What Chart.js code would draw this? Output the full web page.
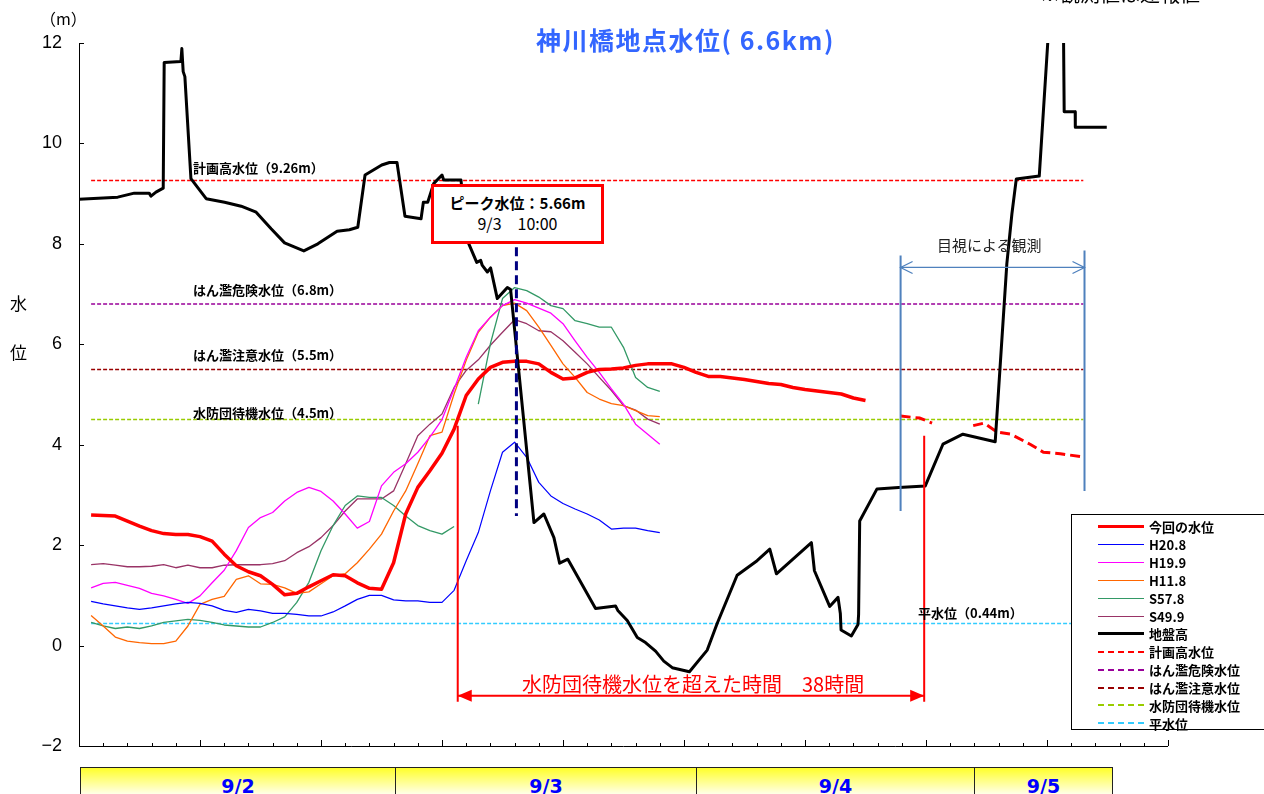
<!DOCTYPE html>
<html lang="ja">
<head>
<meta charset="UTF-8">
<title>神川橋地点水位</title>
<style>
  body { margin: 0; background: #fff; }
  #wrap { position: relative; width: 1264px; height: 794px; overflow: hidden; font-family: "Noto Sans CJK JP", sans-serif; }
  canvas { position: absolute; left: 0; top: 0; }
  .t { position: absolute; white-space: nowrap; line-height: 1; color: #000; }
  .ref { font-size: 13px; font-weight: bold; }
  #titulo { left: 536px; top: 27px; font-size: 25px; font-weight: bold; color: #3366ff; letter-spacing: 1.5px; }
  #pico { position: absolute; left: 431px; top: 184px; width: 173px; height: 60px; box-sizing: border-box;
          border: 3px solid #ff0000; background: #fff; text-align: center; font-size: 15px; }
  #pico div { line-height: 20px; }
  #legenda { position: absolute; left: 1071px; top: 514px; width: 220px; height: 216px; box-sizing: border-box;
             border: 1px solid #000; background: #fff; padding-top: 3px; }
  .item { height: 17.85px; display: flex; align-items: center; }
  .amostra { margin-left: 26px; width: 46px; height: 0; margin-right: 5px; }
  .item span { font-size: 13px; font-weight: bold; }
  #datas { position: absolute; left: 80px; top: 767px; display: flex; }
  .dia { height: 40px; box-sizing: border-box; border: 1.5px solid #222; border-left: none;
         background: linear-gradient(to bottom, #ffff2a 0px, #ffffe8 26px, #fff 40px);
         text-align: center; color: #0000ff; font: bold 19px "DejaVu Sans", sans-serif; padding-top: 7px; }
  .dia:first-child { border-left: 1.5px solid #222; }
</style>
</head>
<body>
<div id="wrap">
  <canvas id="grafico" width="1264" height="794"></canvas>

  <div class="t" style="left:40px; top:10px; font-size:16px;">（m）</div>
  <div class="t" style="left:10px; top:294px; font-size:17px;">水</div>
  <div class="t" style="left:10px; top:343px; font-size:17px;">位</div>
  <div class="t" id="titulo">神川橋地点水位( 6.6km)</div>
  <div class="t" style="left:1040px; top:-16px; font-size:20px;">※観測値は速報値</div>

  <div class="t ref" style="left:193px; top:161px;">計画高水位（9.26m）</div>
  <div class="t ref" style="left:193px; top:283px;">はん濫危険水位（6.8m）</div>
  <div class="t ref" style="left:193px; top:348px;">はん濫注意水位（5.5m）</div>
  <div class="t ref" style="left:193px; top:406px;">水防団待機水位（4.5m）</div>
  <div class="t ref" style="left:918px; top:606px;">平水位（0.44m）</div>

  <div id="pico">
    <div style="margin-top:6px; font-weight:bold;">ピーク水位：5.66m</div>
    <div style="font-size:16px;">9/3　10:00</div>
  </div>

  <div class="t" style="left:522px; top:674px; font-size:20px; color:#ff0000;">水防団待機水位を超えた時間　38時間</div>
  <div class="t" style="left:937px; top:237px; font-size:15px; color:#222;">目視による観測</div>

  <div id="legenda"></div>
  <div id="datas"></div>
</div>

<script src="https://cdn.jsdelivr.net/npm/chart.js"></script>
<script>
  // --- dados ---
  const horas = [1,2,3,4,5,6,7,8,9,10,11,12,13,14,15,16,17,18,19,20,21,22,23,24,25,26,27,28,29,30,
                 31,32,33,34,35,36,37,38,39,40,41,42,43,44,45,46,47,48,49,50,51,52,53,54,55,56,57,58,59,60,
                 61,62,63,64,65]

  let atual = [2.60,2.59,2.58,2.48,2.38,2.29,2.23,2.21,2.21,2.17,2.08,1.82,1.59,1.47,1.39,1.22,1.01,1.04,1.17,1.29,
               1.41,1.39,1.25,1.14,1.12,1.65,2.62,3.15,3.48,3.83,4.31,4.98,5.31,5.54,5.64,5.66,5.66,5.61,5.44,5.31,
               5.33,5.44,5.50,5.51,5.53,5.58,5.61,5.61,5.61,5.54,5.44,5.36,5.36,5.33,5.30,5.26,5.22,5.20,5.14,5.10,
               5.07,5.04,5.01,4.93,4.88]

  let h20 = [0.88,0.83,0.79,0.75,0.72,0.75,0.79,0.83,0.86,0.84,0.79,0.70,0.66,0.72,0.69,0.64,0.64,0.62,0.59,0.59,
             0.67,0.79,0.92,1.00,1.00,0.91,0.89,0.89,0.86,0.86,1.10,1.69,2.25,3.08,3.85,4.05,3.75,3.25,2.98,2.83,
             2.72,2.62,2.50,2.32,2.34,2.34,2.29,2.25]
  let h19 = [1.15,1.24,1.26,1.20,1.14,1.04,0.99,0.92,0.84,0.99,1.25,1.50,1.89,2.35,2.55,2.65,2.88,3.05,3.15,3.07,
             2.88,2.62,2.34,2.47,3.18,3.45,3.62,3.85,4.15,4.50,5.11,5.74,6.27,6.54,6.77,6.89,6.82,6.72,6.62,6.41,
             6.07,5.74,5.44,5.11,4.81,4.41,4.21,4.01]
  let h11 = [0.60,0.39,0.17,0.09,0.06,0.04,0.04,0.09,0.39,0.82,0.92,0.98,1.32,1.39,1.23,1.22,1.15,1.04,1.07,1.23,
             1.39,1.43,1.65,1.92,2.22,2.68,3.08,3.62,4.18,4.25,5.01,5.68,6.24,6.54,6.77,6.82,6.67,6.34,5.98,5.61,
             5.34,5.04,4.91,4.82,4.78,4.68,4.58,4.56]
  let s57 = [0.46,0.39,0.34,0.37,0.34,0.39,0.46,0.49,0.52,0.50,0.46,0.41,0.39,0.37,0.37,0.46,0.57,0.86,1.26,1.89,
             2.39,2.79,2.98,2.95,2.95,2.79,2.58,2.39,2.29,2.22,2.37,null,4.81,6.01,6.91,7.13,7.07,6.94,6.77,6.71,
             6.47,6.41,6.34,6.34,5.94,5.34,5.14,5.06]
  let s49 = [1.61,1.63,1.60,1.57,1.57,1.58,1.61,1.55,1.60,1.55,1.55,1.60,1.61,1.61,1.61,1.63,1.69,1.85,1.97,2.15,
             2.39,2.68,2.92,2.92,2.92,3.08,3.62,4.18,4.41,4.61,5.14,5.48,5.69,5.98,6.24,6.49,6.41,6.27,6.25,6.07,
             5.84,5.61,5.34,5.08,4.78,4.69,4.51,4.41]

  // 目視による観測 (時間, 水位)
  let obsX = [67.9,69.5,70.5,72.2,73.9,74.8,75.9,77.0,78.6,79.7,81.1,82.9]
  let obsY = [4.57,4.53,4.43,null,4.38,4.43,4.25,4.21,4.01,3.85,3.82,3.76]

  // 地盤高 (横断位置を時間軸に合わせたもの)
  let soloX = [0,3.2,4.57,5.8,5.95,6.36,6.96,7.04,8.42,8.5,8.61,8.75,9.25,10.51,12.03,13.4,14.64,15.88,16.99,18.58,
               19.74,21.33,22.35,23.04,23.64,25.02,25.66,26.28,26.94,28.27,28.46,28.82,29.31,30.0,30.14,31.57,32.04,32.87,33.2,33.33,
               33.75,34.02,34.57,35.4,35.67,37.6,38.42,39.25,39.72,40.4,42.69,44.34,44.53,45.31,46.14,46.82,47.65,48.33,49.03,50.45,
               51.92,52.74,54.39,56.04,57.09,57.64,60.53,60.78,62.04,62.73,62.92,62.98,63.83,64.38,64.43,64.52,65.95,67.74,69.94,71.4,
               73.05,75.72,76.68,77.1,77.46,79.36,80.14,81.36,81.42,82.33,82.34,84.94]
  let soloY = [8.89,8.93,9.01,9.01,8.95,9.03,9.11,11.61,11.63,11.89,11.43,11.33,9.30,8.90,8.83,8.75,8.63,8.30,8.02,7.86,
               8.00,8.25,8.28,8.33,9.37,9.57,9.62,9.62,8.55,8.50,8.83,8.83,9.20,9.37,9.27,9.27,8.10,7.63,7.67,7.57,
               7.44,7.52,6.91,7.13,7.09,2.45,2.62,2.15,1.64,1.72,0.74,0.79,0.70,0.50,0.16,0.06,-0.11,-0.31,-0.44,-0.52,
               -0.09,0.44,1.40,1.69,1.92,1.43,2.05,1.49,0.78,0.96,0.64,0.31,0.19,0.42,0.62,2.48,3.12,3.15,3.18,4.01,
               4.21,4.06,7.60,8.60,9.29,9.35,12.3,12.3,10.63,10.63,10.32,10.32]

  let refNomes = ["計画高水位", "はん濫危険水位", "はん濫注意水位", "水防団待機水位", "平水位"]
  let refValores = [9.26, 6.8, 5.5, 4.5, 0.44]
  let refCores = ["#ff0000", "#990099", "#990000", "#99cc00", "#33ccff"]
  let refInicio = 1, refFim = 83

  let dias = ["9/2", "9/3", "9/4", "9/5"]
  let diasLargura = [316, 301, 278, 138]

  const pontos = (xs, ys) => ys.map((v, i) => ({ x: xs[i], y: v }))

  let datasets = [
    { label: "今回の水位", data: pontos(horas, atual), borderColor: "#ff0000", borderWidth: 3.5, order: 1 },
    { label: "H20.8", data: pontos(horas, h20), borderColor: "#0000ff", borderWidth: 1.2, order: 2 },
    { label: "H19.9", data: pontos(horas, h19), borderColor: "#ff00ff", borderWidth: 1.3, order: 2 },
    { label: "H11.8", data: pontos(horas, h11), borderColor: "#ff6600", borderWidth: 1.3, order: 2 },
    { label: "S57.8", data: pontos(horas, s57), borderColor: "#339966", borderWidth: 1.3, order: 2 },
    { label: "S49.9", data: pontos(horas, s49), borderColor: "#993366", borderWidth: 1.3, order: 2 },
    { label: "地盤高", data: pontos(soloX, soloY), borderColor: "#000000", borderWidth: 3, order: 0 },
  ]
  refNomes.forEach((nome, i) => {
    datasets.push({ label: nome, data: [{ x: refInicio, y: refValores[i] }, { x: refFim, y: refValores[i] }],
      borderColor: refCores[i], borderWidth: 1.5, borderDash: [4, 2], order: 3 })
  })
  // 目視 (legend なし)
  datasets.push({ label: "_obs", data: pontos(obsX, obsY), borderColor: "#ff0000", borderWidth: 3, borderDash: [10, 5], order: 1 })

  // --- eixos e anotações ---
  const seta = (ctx, x0, x1, y, cheia, tam, meia) => {
    ctx.beginPath(); ctx.moveTo(x0, y); ctx.lineTo(x1, y); ctx.stroke()
    ;[[x0, 1], [x1, -1]].forEach(([px, d]) => {
      ctx.beginPath()
      ctx.moveTo(px + d * tam, y - meia); ctx.lineTo(px, y); ctx.lineTo(px + d * tam, y + meia)
      if (cheia) { ctx.closePath(); ctx.fill() } else ctx.stroke()
    })
  }

  const extras = {
    id: 'extras',
    afterDraw(chart) {
      const { ctx, chartArea: a, scales: { x, y } } = chart
      ctx.save()
      ctx.strokeStyle = '#000'; ctx.lineWidth = 1
      ctx.beginPath()
      ctx.moveTo(a.left, a.bottom + 0.5); ctx.lineTo(a.right, a.bottom + 0.5)
      for (let h = 0; h <= 90; h += 2) {
        const px = Math.round(x.getPixelForValue(h)) + 0.5
        ctx.moveTo(px, a.bottom); ctx.lineTo(px, a.bottom - (h % 10 === 0 ? 6 : 3))
      }
      y.ticks.forEach(t => {
        const py = Math.round(y.getPixelForValue(t.value)) + 0.5
        ctx.moveTo(a.left, py); ctx.lineTo(a.left + 5, py)
      })
      ctx.stroke()

      // 水防団待機水位を超えた時間
      ctx.strokeStyle = '#ff0000'; ctx.fillStyle = '#ff0000'; ctx.lineWidth = 2
      const xi = x.getPixelForValue(31.3), xf = x.getPixelForValue(69.85)
      ctx.beginPath()
      ctx.moveTo(xi, y.getPixelForValue(4.38)); ctx.lineTo(xi, y.getPixelForValue(-1.12))
      ctx.moveTo(xf, y.getPixelForValue(4.18)); ctx.lineTo(xf, y.getPixelForValue(-1.12))
      ctx.stroke()
      seta(ctx, xi, xf, y.getPixelForValue(-1.0), true, 14, 6)

      // ピーク
      ctx.strokeStyle = '#000080'; ctx.lineWidth = 3; ctx.setLineDash([9, 5])
      const xp = x.getPixelForValue(36.15)
      ctx.beginPath(); ctx.moveTo(xp, y.getPixelForValue(7.93)); ctx.lineTo(xp, y.getPixelForValue(2.58)); ctx.stroke()
      ctx.setLineDash([])

      // 目視による観測
      ctx.strokeStyle = '#4f81bd'; ctx.lineWidth = 2
      const xa = x.getPixelForValue(67.9), xb = x.getPixelForValue(83.1)
      ctx.beginPath()
      ctx.moveTo(xa, y.getPixelForValue(7.77)); ctx.lineTo(xa, y.getPixelForValue(2.68))
      ctx.moveTo(xb, y.getPixelForValue(7.87)); ctx.lineTo(xb, y.getPixelForValue(3.08))
      ctx.stroke()
      ctx.lineWidth = 1.3
      seta(ctx, xa, xb, y.getPixelForValue(7.53), false, 12, 6)
      ctx.restore()
    }
  }

  const ctx = document.getElementById('grafico')
  let grafico = new Chart(ctx, {
    type: 'line',
    data: { datasets: datasets },
    options: {
      responsive: false,
      animation: false,
      layout: { padding: { top: 43, right: 96, bottom: 48, left: 0 } },
      plugins: { legend: { display: false }, tooltip: { enabled: false } },
      elements: { point: { radius: 0 }, line: { tension: 0, borderJoinStyle: 'round' } },
      scales: {
        x: { type: 'linear', min: 0, max: 90, display: false },
        y: {
          min: -2, max: 12,
          ticks: { stepSize: 2, padding: 17, color: '#000', font: { family: 'Liberation Sans', size: 18 },
                   callback: v => String(v).replace('-', '−') },
          grid: { display: false, drawTicks: false },
          border: { display: true, color: '#000', width: 1 },
          afterFit: s => { s.width = 79 }
        }
      }
    },
    plugins: [extras]
  })

  // legenda
  const legenda = document.getElementById('legenda')
  datasets.filter(d => !d.label.startsWith('_')).forEach(d => {
    const item = document.createElement('div'); item.className = 'item'
    const am = document.createElement('div'); am.className = 'amostra'
    const w = d.borderDash ? 2 : Math.max(d.borderWidth, 1.5)
    am.style.borderTop = w + 'px ' + (d.borderDash ? 'dashed ' : 'solid ') + d.borderColor
    const tx = document.createElement('span'); tx.textContent = d.label
    item.appendChild(am); item.appendChild(tx); legenda.appendChild(item)
  })

  // faixa de datas
  const faixa = document.getElementById('datas')
  dias.forEach((d, i) => {
    const c = document.createElement('div'); c.className = 'dia'
    c.style.width = diasLargura[i] + 'px'; c.textContent = d
    faixa.appendChild(c)
  })
</script>
</body>
</html>
